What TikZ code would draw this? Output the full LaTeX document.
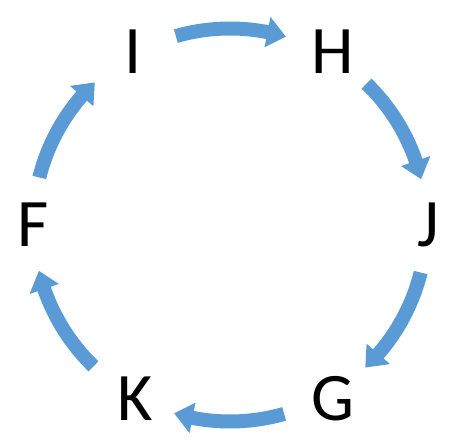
\documentclass[tikz,border=0pt]{standalone}
\usepackage{fontspec}
\setmainfont{Carlito}
\definecolor{cycblue}{HTML}{5B9BD5}
\tikzset{
  lbl/.style={font=\fontsize{68}{80}\selectfont, text=black, inner sep=0pt, anchor=base},
  cycarrow/.style={fill=cycblue, draw=none}
}
\begin{document}
\begin{tikzpicture}[x=1pt,y=1pt]
\useasboundingbox (0,0) rectangle (457,444);
\fill[white] (0,0) rectangle (457,444);
\coordinate (C) at (230,219);
% letters (base at centre - half cap height)
\node[lbl] (I) at (133,370) {I};
\node[lbl] (H) at (333,370) {H};
\node[lbl] (J) at (428,197) {J};
\node[lbl] (G) at (333,24) {G};
\node[lbl] (K) at (135,24) {K};
\node[lbl] (F) at (33,197) {F};
% arrows
\begin{scope}[shift={(C)}]
\foreach \m in {90,30,-30,-90,-150,150}{
  \pgfmathsetmacro{\s}{\m+16}
  \pgfmathsetmacro{\b}{\m-11}
  \pgfmathsetmacro{\t}{\m-16.5}
  \fill[cycarrow] (\s:203.5) arc[start angle=\s, end angle=\b, radius=203.5]
    -- (\b:212) -- (\t:196.5) -- (\b:181) -- (\b:189.5)
    arc[start angle=\b, end angle=\s, radius=189.5] -- cycle;
}
\end{scope}
\end{tikzpicture}
\end{document}
